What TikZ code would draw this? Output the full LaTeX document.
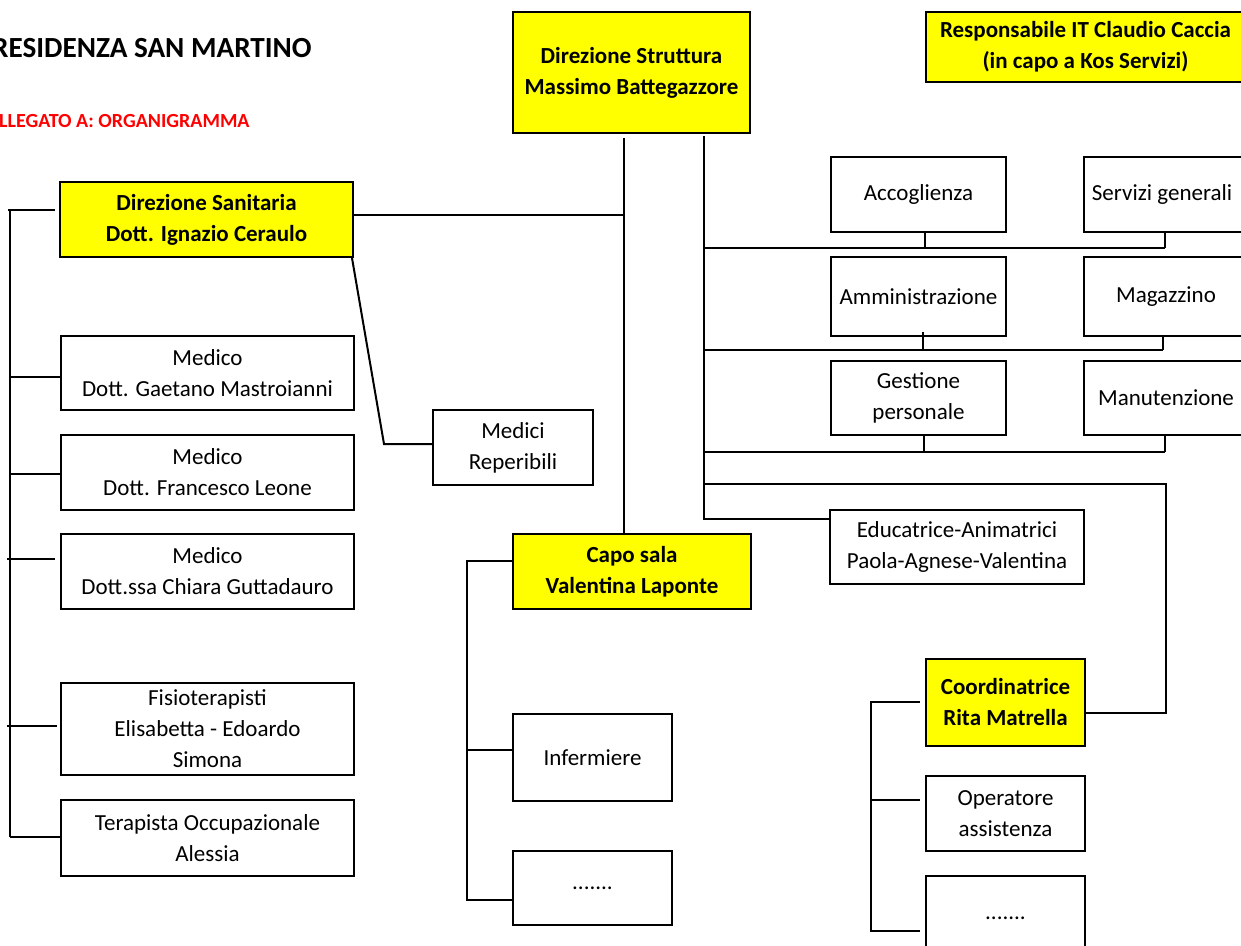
\documentclass[tikz,border=0pt]{standalone}
\usepackage{fontspec}
\setmainfont{Carlito}
\definecolor{boxyellow}{HTML}{FFFF00}
\definecolor{titlered}{HTML}{FF0000}
\tikzset{
  orgbox/.style={draw=black, line width=1.1pt, fill=white, inner sep=0pt, outer sep=0pt, align=center,
    font=\fontsize{11.5}{15.5}\selectfont},
  headbox/.style={orgbox, fill=boxyellow, font=\fontsize{11.5}{15.5}\selectfont\bfseries},
  link/.style={draw=black, line width=1pt}
}
\newcommand\orgnode[7]{%
  \node[#1, minimum width={(#5-#3)*0.5pt}, minimum height={(#6-#4)*0.5pt}] (#2) at ({(#3+#5)/2},{(#4+#6)/2}) {#7};}
\begin{document}
\begin{tikzpicture}[x=0.5pt, y=-0.5pt]
\useasboundingbox (0,0) rectangle (1241,946);
\clip (0,0) rectangle (1241,946);
\fill[white] (0,0) rectangle (1241,946);

% titles
\node[anchor=base east, inner sep=0pt, font=\fontsize{14.6}{18}\selectfont\bfseries] (title) at (312,58) {RESIDENZA SAN MARTINO};
\node[anchor=base east, inner sep=0pt, text=titlered, font=\fontsize{10}{11}\selectfont\bfseries] (sub) at (250,128) {ALLEGATO A: ORGANIGRAMMA};

% head boxes
\orgnode{headbox}{dstr}{513}{12}{750}{133}{Direzione Struttura\\Massimo Battegazzore}
\orgnode{headbox}{rit}{926}{12}{1245}{82}{Responsabile IT Claudio Caccia\\(in capo a Kos Servizi)}
\orgnode{headbox}{dsan}{60}{182}{353}{257}{Direzione Sanitaria\\Dott. Ignazio Ceraulo}
\orgnode{headbox}{capo}{513}{534}{751}{609}{Capo sala\\Valentina Laponte}
\orgnode{headbox}{coord}{926}{659}{1085}{746}{Coordinatrice\\Rita Matrella}

% left column
\orgnode{orgbox}{med1}{61}{336}{354}{410}{Medico\\Dott. Gaetano Mastroianni}
\orgnode{orgbox}{med2}{61}{435}{354}{510}{Medico\\Dott. Francesco Leone}
\orgnode{orgbox}{med3}{61}{534}{354}{609}{Medico\\Dott.ssa Chiara Guttadauro}
\orgnode{orgbox}{fisio}{61}{683}{354}{775}{Fisioterapisti\\Elisabetta - Edoardo\\Simona}
\orgnode{orgbox}{terap}{61}{800}{354}{876}{Terapista Occupazionale\\Alessia}
\orgnode{orgbox}{reper}{433}{410}{593}{485}{Medici\\Reperibili}

% capo sala column
\orgnode{orgbox}{inf}{513}{714}{672}{801}{Infermiere}
\orgnode{orgbox}{capodots}{513}{851}{672}{925}{.......}

% services
\orgnode{orgbox}{acc}{831}{157}{1006}{232}{Accoglienza}
\orgnode{orgbox}{serv}{1084}{157}{1248}{232}{\hspace*{-2pt}Servizi generali\hspace*{2pt}}
\orgnode{orgbox}{amm}{831}{257}{1006}{336}{Amministrazione}
\orgnode{orgbox}{mag}{1084}{257}{1248}{336}{Magazzino}
\orgnode{orgbox}{gest}{831}{361}{1006}{435}{Gestione\\personale}
\orgnode{orgbox}{manut}{1084}{361}{1248}{435}{Manutenzione}
\orgnode{orgbox}{edu}{830}{510}{1084}{584}{Educatrice-Animatrici\\Paola-Agnese-Valentina}

% coordinatrice column
\orgnode{orgbox}{oper}{926}{776}{1085}{851}{Operatore\\assistenza}
\orgnode{orgbox}{coorddots}{926}{876}{1085}{960}{.......}

% ---- connectors ----
% central trunk
\coordinate (t1) at (624,138);
\coordinate (j1) at (624,215);
\draw[link] (t1) -- (t1 |- capo.north);
\draw[link] (dsan.east |- j1) -- (j1);

% medici reperibili
\coordinate (rk) at (384,444);
\draw[link] (352,258) -- (rk) -- (rk -| reper.west);

% left spine
\coordinate (ls1) at (10,210);
\coordinate (ls2) at (10,837);
\draw[link] (ls1) -- (ls2);
\draw[link] (8,210) -- (55,210);
\draw[link] (10,377) -- (10,377 -| med1.west);
\draw[link] (10,474) -- (10,474 -| med2.west);
\draw[link] (7,559) -- (55,559);
\draw[link] (7,726) -- (57,726);
\draw[link] (ls2) -- (ls2 -| terap.west);

% right trunk
\coordinate (t2) at (704,136);
\coordinate (e1) at (704,519);
\draw[link] (t2) -- (e1) -- (e1 -| edu.west);
% service rows
\draw[link] (704,248) -- (1165,248);
\draw[link] (925,232) -- (925,248);
\draw[link] (1165,232) -- (1165,248);
\draw[link] (704,350) -- (1163,350);
\draw[link] (923,332) -- (923,350);
\draw[link] (1163,336) -- (1163,350);
\draw[link] (704,452) -- (1165,452);
\draw[link] (924,435) -- (924,452);
\draw[link] (1165,435) -- (1165,452);
% to coordinatrice
\coordinate (c1) at (704,484);
\coordinate (c2) at (1166,484);
\coordinate (c3) at (1166,713);
\draw[link] (c1) -- (c2) -- (c3) -- (c3 -| coord.east);

% capo sala spine
\coordinate (cs1) at (467,561);
\coordinate (cs2) at (467,900);
\draw[link] (cs1 -| capo.west) -- (cs1) -- (cs2) -- (cs2 -| capodots.west);
\draw[link] (467,750) -- (467,750 -| inf.west);

% coordinatrice spine
\coordinate (cr1) at (871,702);
\coordinate (cr2) at (871,931);
\draw[link] (920,702) -- (cr1) -- (cr2) -- (920,931);
\draw[link] (871,800) -- (920,800);
\end{tikzpicture}
\end{document}
